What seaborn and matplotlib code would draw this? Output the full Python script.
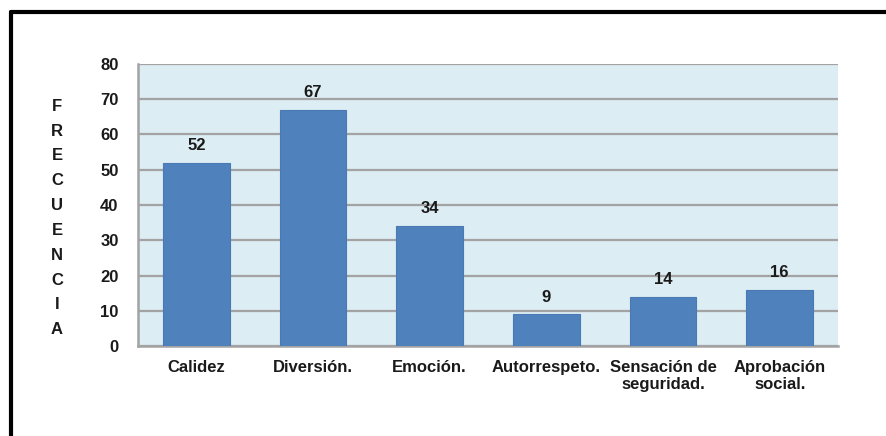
import matplotlib
matplotlib.use("Agg")
import matplotlib.pyplot as plt
import seaborn as sns
import pandas as pd
from matplotlib.lines import Line2D

categorias = ["Calidez", "Diversión.", "Emoción.", "Autorrespeto.",
              "Sensación de\nseguridad.", "Aprobación\nsocial."]
frecuencias = [52, 67, 34, 9, 14, 16]
yticks = [0, 10, 20, 30, 40, 50, 60, 70, 80]

df = pd.DataFrame({"categoria": categorias, "frecuencia": frecuencias})

sns.set_theme(style="white")
plt.rcParams["font.family"] = ["Liberation Sans", "DejaVu Sans"]

fig = plt.figure(figsize=(8.86, 4.36), dpi=100)
ax = fig.add_axes([138 / 886, 1 - 346 / 436, 700 / 886, 282 / 436])
ax.set_facecolor("#DCEDF3")

sns.barplot(data=df, x="categoria", y="frecuencia", color="#4F81BD",
            saturation=1, width=0.57, ax=ax, zorder=3,
            edgecolor="#4A7AB3", linewidth=0.8)

ax.set_ylim(0, 80)
ax.set_yticks(yticks)
ax.set_xlim(-0.5, len(categorias) - 0.5)
ax.yaxis.grid(True, color="#A3A3A3", linewidth=1.6, zorder=0)
ax.set_axisbelow(True)
for s in ["top", "right"]:
    ax.spines[s].set_visible(False)
for s in ["left", "bottom"]:
    ax.spines[s].set_color("#A3A3A3")
    ax.spines[s].set_linewidth(1.8)
ax.tick_params(axis="y", length=0, pad=14, labelsize=12)
ax.tick_params(axis="x", length=0, pad=10, labelsize=12)
for lbl in ax.get_xticklabels() + ax.get_yticklabels():
    lbl.set_fontweight("bold")
    lbl.set_color("#1a1a1a")
ax.set_xlabel("")
ax.set_ylabel("")

for cont in ax.containers:
    ax.bar_label(cont, labels=[str(v) for v in frecuencias], padding=7,
                 fontsize=12, fontweight="bold", color="#1a1a1a")

# Vertical stacked axis title
fig.text(57 / 886, 1 - 218 / 436, "\n".join("FRECUENCIA"), ha="center",
         va="center", fontsize=12, fontweight="bold", color="#1a1a1a",
         linespacing=1.82)

# Frame lines at the top and left of the figure
fig.add_artist(Line2D([11 / 886, 11 / 886], [0, 1 - 12 / 436],
                      transform=fig.transFigure, color="black", linewidth=3))
fig.add_artist(Line2D([11 / 886, 1], [1 - 12 / 436, 1 - 12 / 436],
                      transform=fig.transFigure, color="black", linewidth=3))

fig.savefig("out.png", dpi=100)
